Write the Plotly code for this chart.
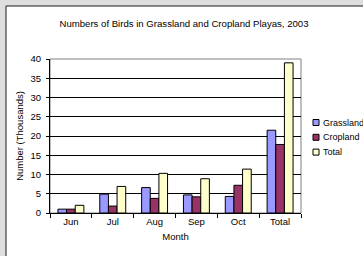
import plotly.graph_objects as go

months = ["Jun", "Jul", "Aug", "Sep", "Oct", "Total"]
grassland = [1.0, 4.9, 6.6, 4.7, 4.3, 21.5]
cropland = [1.0, 1.8, 3.8, 4.2, 7.2, 17.8]
total = [2.0, 6.9, 10.3, 8.9, 11.4, 39.0]

series_names = ["Grassland", "Cropland", "Total"]
series_values = [grassland, cropland, total]
series_colors = ["#9999FF", "#993366", "#FFFFCC"]

y_ticks = [0, 5, 10, 15, 20, 25, 30, 35, 40]

W, H = 363, 256
L, R, T, B = 50, 301, 59, 213  # plot area in pixels


def px_x(p):
    return (p - L) / (R - L)


def px_y(p):
    return (B - p) / (B - T)


FONT = "Liberation Sans, Arial, sans-serif"

fig = go.Figure()
for name, vals, col in zip(series_names, series_values, series_colors):
    fig.add_trace(go.Bar(
        x=months, y=vals, name=name,
        marker=dict(color=col, line=dict(color="black", width=1)),
        showlegend=False,
    ))

shapes = [
    # white chart area with dark border (top/left visible)
    dict(type="rect", xref="paper", yref="paper",
         x0=px_x(6), x1=px_x(W + 20), y0=px_y(6), y1=px_y(H + 20),
         line=dict(color="#1a1a1a", width=1), fillcolor="white", layer="below"),
    # plot area gray border
    dict(type="rect", xref="paper", yref="paper", x0=0, x1=1, y0=0, y1=1,
         line=dict(color="#808080", width=1), fillcolor="rgba(0,0,0,0)", layer="below"),
]
annotations = []

# custom legend
leg_x = 313
leg_y0 = 122.5
leg_dy = 14.8
for i, (name, col) in enumerate(zip(series_names, series_colors)):
    cy = leg_y0 + i * leg_dy
    shapes.append(dict(type="rect", xref="paper", yref="paper",
                       xsizemode="pixel", ysizemode="pixel",
                       xanchor=px_x(leg_x), yanchor=px_y(cy),
                       x0=0, x1=6, y0=-3, y1=3,
                       line=dict(color="black", width=1), fillcolor=col))
    annotations.append(dict(text=name, xref="paper", yref="paper",
                            x=px_x(leg_x + 8), y=px_y(cy),
                            xanchor="left", yanchor="middle", showarrow=False,
                            font=dict(family=FONT, size=9, color="black")))

fig.update_layout(
    width=W, height=H,
    margin=dict(l=L, r=W - R, t=T, b=H - B, pad=0),
    template="none",
    paper_bgcolor="#dedede",
    plot_bgcolor="white",
    barmode="group", bargap=0.38, bargroupgap=0,
    font=dict(family=FONT, size=9.5, color="black"),
    title=dict(text="Numbers of Birds in Grassland and Cropland Playas, 2003",
               x=184 / W, xanchor="center", y=1 - 24 / H, yanchor="middle",
               font=dict(family=FONT, size=9.6, color="black")),
    shapes=shapes,
    annotations=annotations,
    showlegend=False,
)

fig.update_xaxes(
    type="category", showgrid=False, showline=True, linecolor="black", linewidth=1,
    ticks="outside", ticklen=4, tickcolor="black", tickson="boundaries",
    tickfont=dict(family=FONT, size=9.5, color="black"),
    title=dict(text="Month", standoff=6, font=dict(family=FONT, size=9.5, color="black")),
    automargin=False, zeroline=False,
)
fig.update_yaxes(
    range=[0, 40], tickvals=y_ticks, showgrid=True, gridcolor="black", gridwidth=1,
    showline=True, linecolor="black", linewidth=1,
    ticks="outside", ticklen=3, tickcolor="black", ticklabelstandoff=3,
    tickfont=dict(family=FONT, size=9.5, color="black"),
    title=dict(text="Number (Thousands)", standoff=5, font=dict(family=FONT, size=9.5, color="black")),
    automargin=False, zeroline=False,
)

fig.write_html(
    "out.html",
    config={"displayModeBar": False},
    post_script="document.body.style.margin='0';document.body.style.overflow='hidden';",
)
